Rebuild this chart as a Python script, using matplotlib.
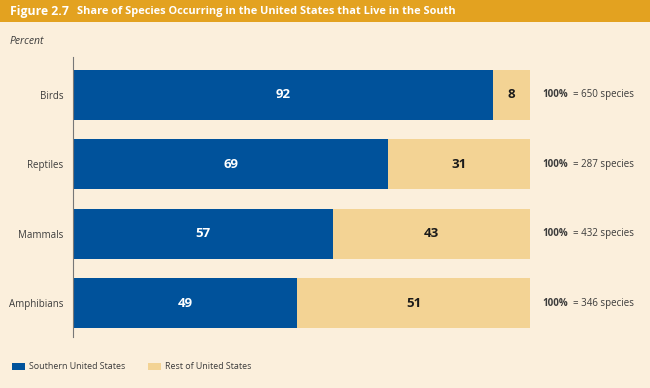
import matplotlib.pyplot as plt
from matplotlib.patches import Rectangle

categories = ['Birds', 'Reptiles', 'Mammals', 'Amphibians']
southern = [92, 69, 57, 49]
rest = [8, 31, 43, 51]
species_totals = [650, 287, 432, 346]

BLUE = '#00529b'
TAN = '#f3d394'
BG = '#fbefdc'
HEADER = '#e3a220'
TEXT = '#3c3c3c'

plt.rcParams['font.family'] = ['Open Sans', 'DejaVu Sans']

W, H = 650, 388
fig = plt.figure(figsize=(6.5, 3.88), dpi=100)
fig.patch.set_facecolor(BG)

# header band
fig.patches.append(Rectangle((0, 1 - 22 / H), 1, 22 / H, transform=fig.transFigure,
                             facecolor=HEADER, edgecolor='none', zorder=0))
fig.text(10 / W, 1 - 11 / H, 'Figure 2.7', color='white', fontsize=8.8,
         fontweight='bold', va='center', ha='left')
fig.text(77 / W, 1 - 11.5 / H, 'Share of Species Occurring in the United States that Live in the South',
         color='white', fontsize=7.9, fontweight='bold', va='center', ha='left')
fig.text(10 / W, 1 - 41 / H, 'Percent', color=TEXT, fontsize=7.5, style='italic',
         va='center', ha='left')

# axes: x 73..530 px, y 57..337 px
ax = fig.add_axes([73 / W, 1 - 337 / H, (530 - 73) / W, (337 - 57) / H])
ax.set_facecolor('none')
ax.set_xlim(0, 100)
ax.set_ylim(3.49, -0.548)

y = list(range(len(categories)))
bh = 50 / 69.3
ax.barh(y, southern, height=bh, color=BLUE, label='Southern United States')
ax.barh(y, rest, left=southern, height=bh, color=TAN, label='Rest of United States')

for i in y:
    ax.text(southern[i] / 2, i, str(southern[i]), color='white', fontsize=9.5,
            fontweight='bold', ha='center', va='center')
    ax.text(southern[i] + rest[i] / 2, i, str(rest[i]), color='#1a1a1a', fontsize=9.5,
            fontweight='bold', ha='center', va='center')
    ax.text(102.6, i, '100%', color=TEXT, fontsize=7, fontweight='bold',
            ha='left', va='center')
    ax.text(109.3, i, f'= {species_totals[i]} species', color=TEXT, fontsize=7,
            ha='left', va='center')

ax.set_yticks(y)
ax.set_yticklabels(categories, fontsize=7, color=TEXT)
ax.tick_params(axis='y', length=0, pad=7)
ax.set_xticks([])
for s in ['top', 'right', 'bottom']:
    ax.spines[s].set_visible(False)
ax.spines['left'].set_color('#777777')
ax.spines['left'].set_linewidth(0.8)

# legend
lx = [12, 148]
labels = ['Southern United States', 'Rest of United States']
colors = [BLUE, TAN]
for x0, lab, c in zip(lx, labels, colors):
    fig.patches.append(Rectangle((x0 / W, 1 - 370 / H), 13 / W, 7 / H,
                                 transform=fig.transFigure, facecolor=c, edgecolor='none'))
    fig.text((x0 + 17) / W, 1 - 366.5 / H, lab, color=TEXT, fontsize=6.4,
             va='center', ha='left')

fig.savefig('out.png', dpi=100, facecolor=BG)
